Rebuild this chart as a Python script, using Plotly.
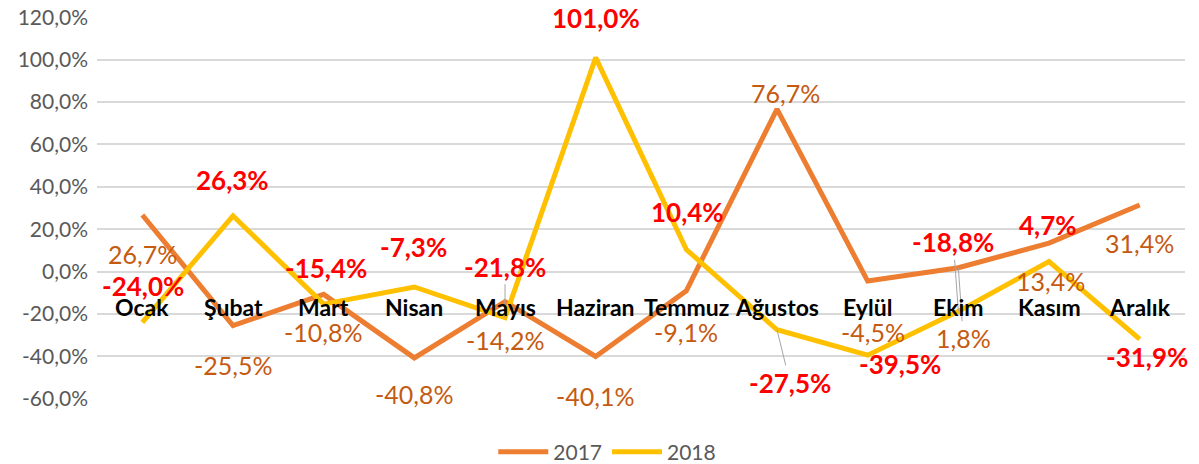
import plotly.graph_objects as go

months = ["Ocak", "Şubat", "Mart", "Nisan", "Mayıs", "Haziran", "Temmuz",
          "Ağustos", "Eylül", "Ekim", "Kasım", "Aralık"]
v2017 = [26.7, -25.5, -10.8, -40.8, -14.2, -40.1, -9.1, 76.7, -4.5, 1.8, 13.4, 31.4]
v2018 = [-24.0, 26.3, -15.4, -7.3, -21.8, 101.0, 10.4, -27.5, -39.5, -18.8, 4.7, -31.9]
tick_values = [-60, -40, -20, 0, 20, 40, 60, 80, 100, 120]

# label offsets (pixels) and leader flags, kept apart from the data
off2017 = [(0, 39), (0, 39), (0, 38), (0, 36), (0, 38), (0, 40), (0, 41),
           (8, -16), (5, 51), (5, 70), (1, 38), (0, 38)]
lead2017 = [False] * 9 + [True, False, False]
off2018 = [(1, -36), (-1, -36), (2, -36), (-1, -40), (0, -51), (0, -40), (1, -38),
           (13, 53), (32, 9), (-5, -69), (-1, -37), (7, 18)]
lead2018 = [False, False, False, False, True, False, False, True, False, True, False, False]

C2017 = "#ED7D31"
C2018 = "#FFC000"
FONT = "Lato"


def pct(v):
    return f"{v:.1f}%".replace(".", ",")


fig = go.Figure()
fig.add_trace(go.Scatter(x=months, y=v2017, mode="lines", name="2017",
                         line=dict(color=C2017, width=5)))
fig.add_trace(go.Scatter(x=months, y=v2018, mode="lines", name="2018",
                         line=dict(color=C2018, width=5)))

annotations = []
for vals, offs, leads, color, bold in [
    (v2017, off2017, lead2017, "#C55A11", False),
    (v2018, off2018, lead2018, "#FF0000", True),
]:
    for m, v, (dx, dy), ld in zip(months, vals, offs, leads):
        txt = pct(v)
        if bold:
            txt = f"<b>{txt}</b>"
        annotations.append(dict(
            x=m, y=v, xref="x", yref="y", text=txt, showarrow=True,
            ax=dx, ay=dy, arrowhead=0, arrowwidth=1, standoff=0,
            arrowcolor="#A6A6A6" if ld else "rgba(0,0,0,0)",
            font=dict(family=FONT, size=26 if bold else 25, color=color),
        ))

for m in months:
    annotations.append(dict(
        x=m, y=0, xref="x", yref="y", text=f"<b>{m}</b>", showarrow=False,
        yshift=-35, font=dict(family=FONT, size=23, color="#000000"),
    ))

fig.update_layout(
    width=1199, height=464,
    margin=dict(l=97, r=14, t=17, b=65, autoexpand=False),
    paper_bgcolor="white", plot_bgcolor="white",
    showlegend=True,
    legend=dict(orientation="h", x=0.469, xanchor="center", y=-0.139, yanchor="middle",
                font=dict(family=FONT, size=21, color="#595959"),
                itemwidth=50, tracegroupgap=0),
    xaxis=dict(showticklabels=False, showgrid=False, zeroline=False,
               showline=False, ticks="", automargin=False,
               range=[-0.5, len(months) - 0.5]),
    yaxis=dict(range=[-60.2, 120.2], tickvals=tick_values,
               ticktext=[pct(t) for t in tick_values],
               showgrid=True, gridcolor="#D9D9D9", gridwidth=1.5,
               zeroline=False, showline=False, automargin=False,
               tickfont=dict(family=FONT, size=21, color="#595959"),
               ticklabelstandoff=8),
    annotations=annotations,
)

fig.write_html(
    "out.html",
    config={"displayModeBar": False},
    post_script="document.body.style.margin='0';document.body.style.overflow='hidden';",
)
